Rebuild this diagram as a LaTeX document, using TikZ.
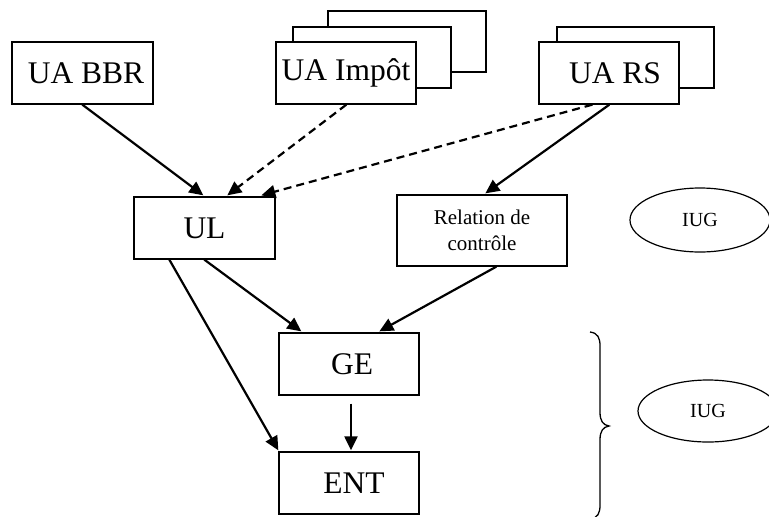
\documentclass[tikz,border=0pt]{standalone}
\usepackage{fontspec}
\setmainfont{Liberation Serif}
\usetikzlibrary{arrows.meta,calc,shapes.geometric}
\begin{document}
\begin{tikzpicture}[x=1pt,y=-1pt,
  box/.style={draw,line width=1.3pt,fill=white,inner sep=0pt,font=\fontsize{31.5}{34}\selectfont},
  backbox/.style={draw,line width=1.3pt,fill=white,inner sep=0pt},
  smallbox/.style={draw,line width=1.3pt,fill=white,inner sep=0pt,align=center,font=\fontsize{21}{26}\selectfont},
  oval/.style={draw,line width=1.2pt,ellipse,inner sep=0pt,font=\fontsize{20}{24}\selectfont},
  arr/.style={line width=2.2pt,-{Triangle[length=14pt,width=13pt]}},
  darr/.style={arr,dash pattern=on 8pt off 5pt}]
\useasboundingbox (0,0) rectangle (769,517);
\clip (0,0) rectangle (769,517);
% UA BBR
\node[box,minimum width=141pt,minimum height=62pt] (bbr) at (82.5,73) {\hspace*{7pt}UA BBR};
% UA Impot stack
\node[backbox,minimum width=158pt,minimum height=61pt] (imp3) at (407,41.5) {};
\node[backbox,minimum width=158pt,minimum height=61pt] (imp2) at (372,57.5) {};
\node[box,minimum width=140pt,minimum height=62pt] (imp) at (346,73) {UA Impôt};
% UA RS stack
\node[backbox,minimum width=157pt,minimum height=61pt] (rs2) at (635.5,57.5) {};
\node[box,minimum width=140pt,minimum height=62pt] (rs) at (609,73) {\hspace*{12pt}UA RS};
% middle row
\node[box,minimum width=141pt,minimum height=62pt] (ul) at (204.5,228) {UL};
\node[smallbox,minimum width=170pt,minimum height=71pt] (rel) at (482,230.5) {Relation de\\contrôle};
\node[box,minimum width=140pt,minimum height=62pt] (ge) at (349,364) {\hspace*{6pt}GE};
\node[box,minimum width=140pt,minimum height=62pt] (ent) at (349,483) {\hspace*{10pt}ENT};
% ellipses
\node[oval,minimum width=140pt,minimum height=64pt] (iug1) at (700,220) {IUG};
\node[oval,minimum width=140pt,minimum height=62pt] (iug2) at (708,411) {IUG};
% brace
\coordinate (bt) at (590,332);
\coordinate (bb) at (590,519);
\draw[line width=1.3pt] (bt) .. controls (598,333) and (600,338) .. (600,346)
  -- (600,412) .. controls (600,421) and (603,425) .. (609,426)
  .. controls (603,427) and (600,431) .. (600,440)
  -- (600,505) .. controls (600,513) and (598,518) .. (bb);
% connectors
\draw[arr] ($(bbr.south west)+(71,0)$) -- ($(ul.north west)+(70,-1)$);
\draw[darr] ($(imp.south west)+(71,0)$) -- ($(ul.north west)+(94,-1)$);
\draw[darr] ($(rs.south west)+(54,0)$) -- ($(ul.north west)+(128,-1)$);
\draw[arr] ($(rs.south west)+(71,0)$) -- ($(rel.north west)+(89,-1)$);
\draw[arr] ($(ul.south west)+(36,0)$) -- ($(ent.north west)+(0,-1)$);
\draw[arr] ($(ul.south west)+(71,0)$) -- ($(ge.north west)+(23,-1)$);
\draw[arr] ($(rel.south west)+(100,0)$) -- ($(ge.north west)+(101,-1)$);
\draw[arr] ($(ge.south)+(2,8)$) -- ($(ent.north)+(2,-1)$);
\end{tikzpicture}
\end{document}
